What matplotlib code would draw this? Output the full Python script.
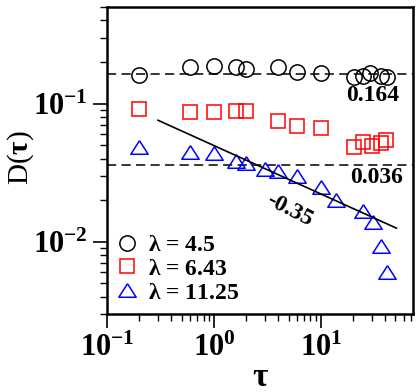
import matplotlib
matplotlib.use("Agg")
import matplotlib.pyplot as plt
import numpy as np

# data
tau_a = [0.2, 0.6, 1.0, 1.6, 2.0, 4.0, 6.0, 10.0, 20.3, 24.9, 29.1, 36.9, 41.7]
D_a = [0.160, 0.183, 0.188, 0.183, 0.178, 0.183, 0.170, 0.166, 0.156, 0.158, 0.167, 0.158, 0.156]

tau_b = [0.2, 0.6, 1.0, 1.6, 2.0, 4.0, 6.0, 10.0, 20.3, 24.6, 30.4, 36.9, 40.6]
D_b = [0.0916, 0.0865, 0.087, 0.0885, 0.0885, 0.0753, 0.069, 0.0666, 0.0488, 0.0525, 0.049, 0.052, 0.0548]

tau_c = [0.2, 0.6, 1.0, 1.6, 2.0, 3.0, 4.0, 6.0, 10.0, 14.0, 24.6, 30.9, 36.9, 41.4]
D_c = [0.0482, 0.0446, 0.0436, 0.0387, 0.0373, 0.0338, 0.0325, 0.0297, 0.0249, 0.0199, 0.0167, 0.014, 0.00935, 0.006]

labels = [r"$\lambda$ = 4.5", r"$\lambda$ = 6.43", r"$\lambda$ = 11.25"]
plateaus = [0.164, 0.036]

# power-law guide D ~ A * tau^slope
fit_amp = 0.0497
fit_slope = -0.35
fit_range = [0.3, 51]

plt.rcParams["font.family"] = "Liberation Serif"
plt.rcParams["font.weight"] = "bold"
plt.rcParams["mathtext.fontset"] = "custom"
plt.rcParams["mathtext.rm"] = "Liberation Serif:bold"
plt.rcParams["mathtext.it"] = "Liberation Serif:bold"
plt.rcParams["mathtext.bf"] = "Liberation Serif:bold"
plt.rcParams["axes.unicode_minus"] = False

fig = plt.figure(figsize=(4.2, 3.92), dpi=100)
ax = fig.add_axes([107 / 420, 78 / 392, 306 / 420, 307 / 392])

for y in plateaus:
    ax.axhline(y, color="black", lw=1.1, linestyle=(0, (6, 3.5)), zorder=1)

tri = [(0, 0.78), (-1, -0.78), (1, -0.78), (0, 0.78)]
ax.plot(tau_a, D_a, "o", ms=11, mfc="none", mec="black", mew=1.1, label=labels[0])
ax.plot(tau_b, D_b, "s", ms=9.5, mfc="none", mec="red", mew=1.1, label=labels[1])
ax.plot(tau_c, D_c, marker=tri, ls="none", ms=12.5, mfc="none", mec="blue", mew=1.1, label=labels[2])

xf = np.array(fit_range)
ax.plot(xf, fit_amp * xf ** fit_slope, color="black", lw=1.2)

ax.set_xscale("log")
ax.set_yscale("log")
ax.set_xlim(0.1, 73)
ax.set_ylim(0.003, 0.5)

ax.text(0.869, 0.713, "0.164", transform=ax.transAxes, ha="center", va="center", fontsize=17)
ax.text(0.882, 0.446, "0.036", transform=ax.transAxes, ha="center", va="center", fontsize=17)
ax.text(0.595, 0.339, "-0.35", transform=ax.transAxes, ha="center", va="center", fontsize=17, rotation=-27)

ax.set_xlabel(r"$\tau$", fontsize=24, labelpad=0)
ax.set_ylabel(r"D($\tau$)", fontsize=21)
ax.yaxis.set_label_coords(-0.232, 0.51)

ax.tick_params(which="major", length=10, width=1.2, labelsize=22, direction="out", pad=4)
ax.tick_params(which="minor", length=5, width=1.0, direction="out")
for s in ax.spines.values():
    s.set_linewidth(1.8)

ax.legend(loc="lower left", bbox_to_anchor=(-0.035, -0.02), frameon=False, fontsize=17,
          handletextpad=0.3, labelspacing=0.1, borderaxespad=0.3, handlelength=1.2)

fig.savefig("out.png", dpi=100)
